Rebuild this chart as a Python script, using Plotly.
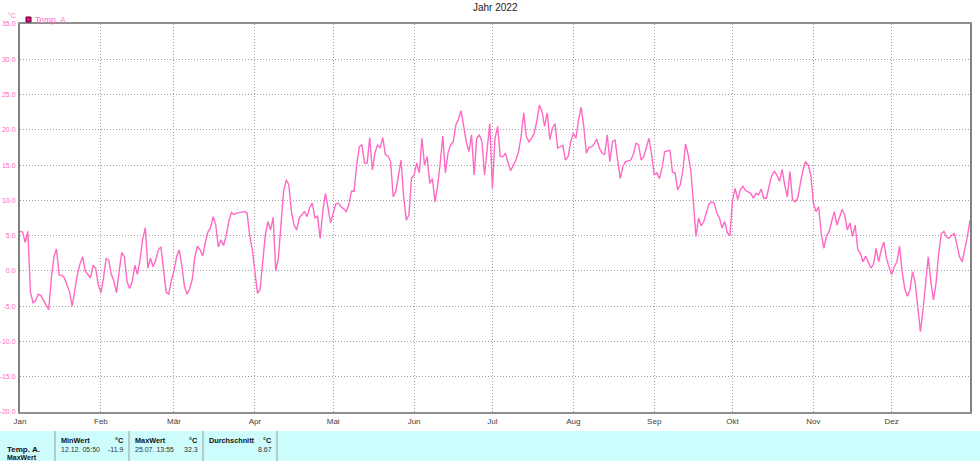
import pandas as pd
import plotly.graph_objects as go

# ---------------- data (daily mean temperature) ----------------
jan = [5.6, 5.5, 4.0, 5.6, -3.0, -4.5, -4.2, -3.3, -3.5, -4.2, -5.0, -5.5, -1.0, 2.0, 3.1,
       -0.6, -0.6, -1.0, -2.0, -3.0, -5.0, -2.5, -0.5, 1.0, 2.0, 0.0, -0.5, -1.0, 0.8, 0.4, -2.0]
feb = [-3.1, -1.0, 1.8, 1.5, -0.5, -1.5, -3.1, 0.0, 2.6, 2.0, -1.5, -2.5, -1.5, 0.8, -0.5,
       1.6, 4.5, 6.1, 0.4, 1.8, 0.6, 1.5, 3.0, 3.4, -0.3, -3.0, -3.3, -1.3]
mar = [0.0, 2.0, 3.0, 0.8, -2.2, -3.3, -2.5, -1.2, 2.0, 3.5, 3.0, 2.1, 4.0, 5.5, 6.1, 7.7,
       6.5, 3.4, 4.4, 3.6, 5.0, 7.0, 8.3, 8.0, 8.2, 8.3, 8.4, 8.4, 8.2, 5.1, 3.0]
apr = [-0.1, -3.2, -2.6, 1.8, 5.1, 7.0, 5.8, 7.6, 0.0, 1.8, 7.0, 11.3, 12.9, 12.2, 8.4,
       6.5, 5.8, 7.5, 8.0, 8.4, 7.7, 9.0, 9.6, 7.5, 7.8, 4.6, 8.4, 11.0, 9.0, 6.8]
mai = [8.2, 9.5, 9.6, 9.1, 8.8, 8.4, 9.4, 11.3, 11.3, 15.0, 17.6, 17.9, 15.3, 15.3, 18.9,
       14.3, 16.7, 17.9, 17.4, 18.9, 16.5, 16.3, 15.5, 10.5, 11.3, 13.6, 15.7, 10.5, 7.2, 7.9, 13.1]
jun = [13.6, 15.3, 13.9, 18.8, 15.0, 16.2, 12.4, 13.1, 9.8, 12.0, 15.3, 19.1, 13.9, 16.7, 17.9,
       18.3, 20.7, 21.5, 22.7, 20.2, 18.3, 16.9, 19.3, 13.6, 18.8, 19.3, 18.3, 13.6, 17.4, 20.9]
jul = [11.7, 18.8, 20.5, 16.2, 16.2, 16.7, 15.3, 14.2, 15.0, 15.7, 16.9, 19.0, 22.4, 19.1, 18.3,
       18.8, 19.5, 21.2, 23.5, 22.6, 20.5, 22.4, 18.6, 20.2, 20.9, 17.4, 17.6, 17.8, 15.7, 16.2, 18.3]
aug = [19.5, 18.8, 21.4, 23.2, 20.5, 16.7, 17.5, 17.6, 18.0, 18.7, 17.4, 16.7, 16.5, 19.3, 15.5,
       18.3, 18.6, 15.7, 13.1, 14.8, 15.5, 15.6, 15.7, 16.5, 18.1, 17.9, 15.7, 16.2, 17.6, 18.8, 16.5]
sep = [13.6, 13.9, 13.1, 14.6, 16.9, 17.0, 17.1, 14.0, 13.9, 11.5, 12.2, 14.3, 18.0, 16.5, 14.3,
       9.8, 4.9, 7.5, 6.4, 7.0, 8.4, 9.5, 9.8, 9.6, 8.2, 7.5, 6.1, 7.0, 5.4, 5.0]
okt = [10.0, 11.7, 10.1, 11.5, 12.0, 11.4, 11.2, 11.0, 10.3, 11.0, 10.8, 11.6, 10.3, 10.3, 12.0,
       13.5, 14.1, 13.6, 12.7, 14.4, 12.2, 10.5, 14.1, 10.1, 9.8, 10.3, 12.4, 14.3, 15.5, 15.0, 13.6]
nov = [9.6, 8.4, 9.1, 5.3, 3.2, 4.9, 5.6, 7.0, 8.4, 6.5, 7.5, 8.7, 7.9, 5.8, 6.8,
       4.9, 6.5, 3.0, 2.5, 1.3, 2.1, 1.1, 0.4, 0.9, 3.2, 1.3, 3.0, 4.1, 1.8, 0.5]
dez = [-0.5, 0.6, 1.3, 3.5, -0.1, -2.5, -3.6, -2.7, -0.1, -1.7, -5.1, -8.6, -5.5, -1.3, 2.0,
       -1.5, -4.1, -1.7, 2.5, 5.3, 5.6, 4.8, 4.6, 5.1, 5.3, 3.7, 2.0, 1.3, 3.0, 4.9, 7.2]

temps = jan + feb + mar + apr + mai + jun + jul + aug + sep + okt + nov + dez
dates = pd.date_range("2022-01-01", periods=len(temps), freq="D")

month_starts = pd.date_range("2022-01-01", periods=12, freq="MS")
month_labels = ["Jan", "Feb", "Mär", "Apr", "Mai", "Jun", "Jul", "Aug", "Sep", "Okt", "Nov", "Dez"]
y_ticks = [35, 30, 25, 20, 15, 10, 5, 0, -5, -10, -15, -20]

title_text = "Jahr 2022"
series_name = "Temp. A"
unit = "°C"
table_row = "Temp. A."
table_row2 = "MaxWert"
stat_headers = ["MinWert", "MaxWert", "Durchschnitt"]
stat_times = ["12.12. 05:50", "25.07. 13:55", ""]
stat_values = ["-11.9", "32.3", "8.67"]

# ---------------- layout geometry (pixels) ----------------
W, H = 980, 461
L, R, T, B = 20, 970, 24, 412

def px(x):
    return (x - L) / (R - L)

def py(y):
    return (B - y) / (B - T)

PINK = "#ff69c4"
GRID = "#a0a0a0"
FONT = "Liberation Sans, Arial, sans-serif"

fig = go.Figure()
fig.add_trace(go.Scatter(
    x=dates, y=temps, mode="lines", name=series_name,
    line=dict(color=PINK, width=1.4), showlegend=False,
))

fig.update_layout(
    width=W, height=H,
    margin=dict(l=L, r=W - R, t=T, b=H - B, autoexpand=False),
    paper_bgcolor="white", plot_bgcolor="white",
    font=dict(family=FONT, size=8, color="#333333"),
    xaxis=dict(
        range=["2022-01-01", "2022-12-31"], automargin=False,
        tickmode="array", tickvals=month_starts, ticktext=month_labels,
        showgrid=True, gridcolor=GRID, griddash="1px,2px", gridwidth=1,
        showline=True, linecolor="#909090", linewidth=2, mirror=True,
        ticks="", zeroline=False, ticklabelstandoff=0,
        tickfont=dict(size=8, color="#404040", family=FONT),
    ),
    yaxis=dict(
        range=[-20, 35], automargin=False,
        tickmode="array", tickvals=y_ticks,
        ticktext=[f"{v:.1f}" for v in y_ticks],
        showgrid=True, gridcolor=GRID, griddash="1px,2px", gridwidth=1,
        showline=True, linecolor="#808080", linewidth=2, mirror=True,
        ticks="", zeroline=False, ticklabelstandoff=1,
        tickfont=dict(size=7, color=PINK, family=FONT),
    ),
)

shapes = []
annotations = []

# title
annotations.append(dict(text=title_text, x=0.5, xref="paper", y=py(8), yref="paper",
                        showarrow=False, font=dict(size=10, color="#222222", family=FONT),
                        xanchor="center", yanchor="middle"))
# unit label
annotations.append(dict(text=unit, x=px(12), xref="paper", y=py(15), yref="paper",
                        showarrow=False, font=dict(size=7, color=PINK, family=FONT),
                        xanchor="center", yanchor="middle"))
# legend square + text
shapes.append(dict(type="rect", xref="paper", yref="paper",
                   x0=px(26), x1=px(31), y0=py(22), y1=py(17),
                   fillcolor="#e0107a", line=dict(color="#600030", width=1)))
annotations.append(dict(text=series_name, x=px(33), xref="paper", y=py(19.5), yref="paper",
                        showarrow=False, font=dict(size=8.5, color=PINK, family=FONT),
                        xanchor="left", yanchor="middle"))

# statistics table at bottom
shapes.append(dict(type="rect", xref="paper", yref="paper",
                   x0=px(0), x1=px(W), y0=py(H + 2), y1=py(431),
                   fillcolor="#ccfcfc", line=dict(width=0), layer="below"))
for sx in [55, 129, 203, 277]:
    shapes.append(dict(type="line", xref="paper", yref="paper",
                       x0=px(sx), x1=px(sx), y0=py(H + 2), y1=py(431),
                       line=dict(color="#9a9a9a", width=1)))

bold = dict(size=8, color="#111111", family=FONT)
head = dict(size=7.3, color="#111111", family=FONT)
annotations.append(dict(text=f"<b>{table_row}</b>", x=px(5), xref="paper", y=py(449.5), yref="paper",
                        showarrow=False, font=bold, xanchor="left", yanchor="middle"))
annotations.append(dict(text=f"<b>{table_row2}</b>", x=px(5), xref="paper", y=py(457.5), yref="paper",
                        showarrow=False, font=dict(size=7, color="#111111", family=FONT),
                        xanchor="left", yanchor="middle"))
col_left = [59, 133, 207]
col_right = [126, 200, 274]
for i in range(3):
    annotations.append(dict(text=f"<b>{stat_headers[i]}</b>", x=px(col_left[i]), xref="paper",
                            y=py(440), yref="paper", showarrow=False, font=head,
                            xanchor="left", yanchor="middle"))
    annotations.append(dict(text=f"<b>{unit}</b>", x=px(col_right[i]), xref="paper",
                            y=py(440), yref="paper", showarrow=False, font=head,
                            xanchor="right", yanchor="middle"))
    if stat_times[i]:
        annotations.append(dict(text=stat_times[i], x=px(col_left[i]), xref="paper",
                                y=py(449.5), yref="paper", showarrow=False,
                                font=dict(size=7, color="#333333", family=FONT),
                                xanchor="left", yanchor="middle"))
    annotations.append(dict(text=stat_values[i], x=px(col_right[i]), xref="paper",
                            y=py(449.5), yref="paper", showarrow=False,
                            font=dict(size=7, color="#333333", family=FONT),
                            xanchor="right", yanchor="middle"))

fig.update_layout(shapes=shapes, annotations=annotations)
fig.write_html(
    "out.html",
    config={"displayModeBar": False},
    post_script="document.body.style.margin='0';document.body.style.overflow='hidden';",
)
